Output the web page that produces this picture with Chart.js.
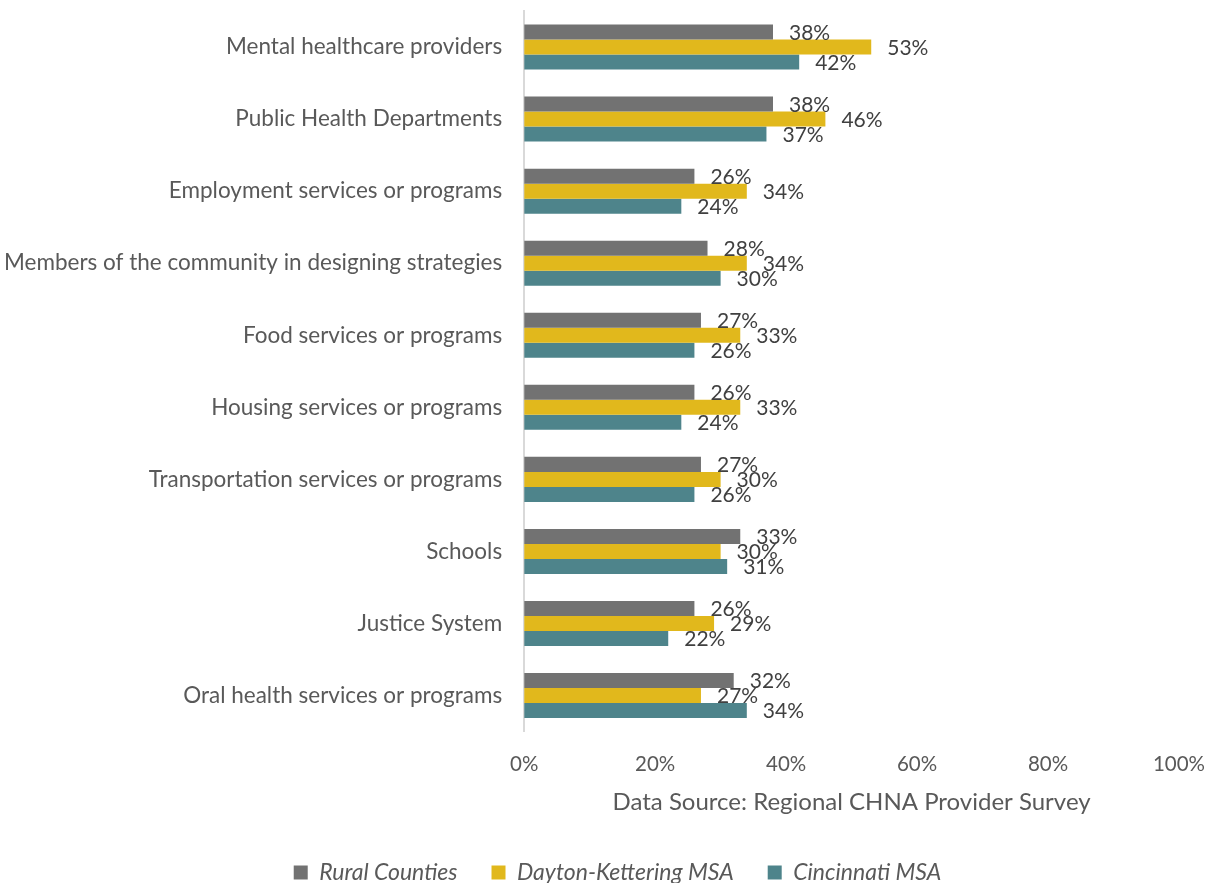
<!DOCTYPE html>
<html>
<head>
<meta charset="utf-8">
<script src="https://cdn.jsdelivr.net/npm/chart.js@4/dist/chart.umd.min.js"></script>
<style>
  html, body { margin: 0; padding: 0; background: #fff; }
  #wrap { width: 1214px; height: 883px; }
</style>
</head>
<body>
<div id="wrap"><canvas id="canvas1" width="1214" height="883"></canvas></div>
<script>
const categories = [
  "Mental healthcare providers",
  "Public Health Departments",
  "Employment services or programs",
  "Members of the community in designing strategies",
  "Food services or programs",
  "Housing services or programs",
  "Transportation services or programs",
  "Schools",
  "Justice System",
  "Oral health services or programs"
];
const rural = [38, 38, 26, 28, 27, 26, 27, 33, 26, 32];
const dayton = [53, 46, 34, 34, 33, 33, 30, 30, 29, 27];
const cincinnati = [42, 37, 24, 30, 26, 24, 26, 31, 22, 34];
const xTicks = [0, 20, 40, 60, 80, 100];

const FONT = "Lato, 'Open Sans', sans-serif";
const TEXT = "#595959";

// value labels just past the end of each bar
const barLabels = {
  id: "barLabels",
  afterDatasetsDraw(chart) {
    const ctx = chart.ctx;
    ctx.save();
    ctx.font = "21px " + FONT;
    ctx.fillStyle = "#404040";
    ctx.textBaseline = "middle";
    ctx.textAlign = "left";
    chart.data.datasets.forEach((ds, i) => {
      chart.getDatasetMeta(i).data.forEach((bar, j) => {
        ctx.fillText(ds.data[j] + "%", bar.x + 16, bar.y + 1);
      });
    });
    ctx.restore();
  }
};

// nudge the legend a little right of the canvas centre
const legendShift = {
  id: "legendShift",
  afterLayout(chart) {
    chart.legend.left += 33;
    chart.legend.right += 33;
  }
};

const ctx1 = document.getElementById("canvas1");
createChart(ctx1);

function createChart(ctx) {
  new Chart(ctx, {
    type: "bar",
    data: {
      labels: categories,
      datasets: [
        { label: "Rural Counties", data: rural, backgroundColor: "#727272" },
        { label: "Dayton-Kettering MSA", data: dayton, backgroundColor: "#e1b81c" },
        { label: "Cincinnati MSA", data: cincinnati, backgroundColor: "#4e848b" }
      ]
    },
    options: {
      indexAxis: "y",
      responsive: false,
      animation: false,
      layout: { padding: { top: 11, right: 35, left: -10, bottom: -11 } },
      datasets: {
        bar: { categoryPercentage: 0.625, barPercentage: 1 }
      },
      scales: {
        x: {
          min: 0,
          max: 100,
          afterBuildTicks: axis => { axis.ticks = xTicks.map(v => ({ value: v })); },
          afterFit: axis => { axis.paddingLeft = 0; axis.paddingRight = 0; },
          grid: { display: false },
          border: { display: false },
          ticks: {
            color: TEXT,
            font: { family: FONT, size: 20.5 },
            padding: 12,
            callback: v => v + "%"
          },
          title: {
            display: true,
            text: "Data Source: Regional CHNA Provider Survey",
            color: TEXT,
            font: { family: FONT, size: 24 },
            padding: { top: 0, bottom: 10 }
          }
        },
        y: {
          afterFit: axis => { axis.paddingTop = 0; axis.paddingBottom = 0; },
          grid: { display: false },
          border: { display: true, color: "#d9d9d9", width: 2 },
          ticks: {
            color: TEXT,
            font: { family: FONT, size: 22.5 },
            padding: 14
          }
        }
      },
      plugins: {
        legend: {
          position: "bottom",
          labels: {
            color: TEXT,
            font: { family: FONT, size: 23, style: "italic" },
            boxWidth: 14,
            boxHeight: 14,
            padding: 34
          }
        },
        tooltip: { enabled: false }
      }
    },
    plugins: [barLabels, legendShift]
  });
}
</script>
</body>
</html>
